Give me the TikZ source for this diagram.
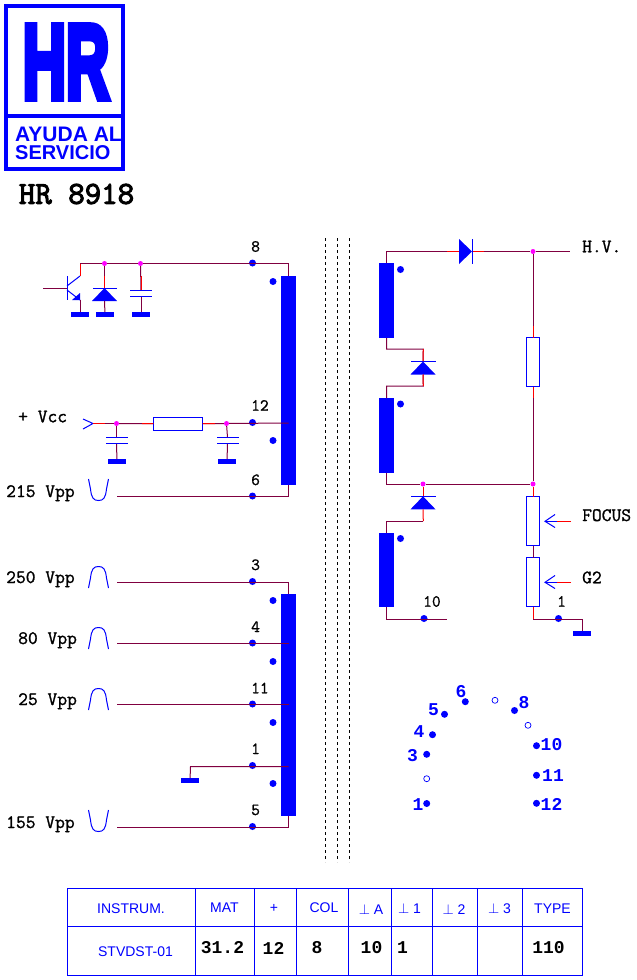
\documentclass[tikz,border=0pt]{standalone}
\usepackage{fontspec}
\setmainfont{Liberation Sans}
\newfontfamily\monofont{Liberation Mono}
\newfontfamily\logofont[FakeBold=7]{Liberation Sans Bold}
\newfontfamily\slabfont[FakeBold=1.2]{Latin Modern Mono}
\newfontfamily\titlefont[FakeBold=3]{Latin Modern Mono}
\usetikzlibrary{shapes.geometric,calc}
\definecolor{wirecol}{RGB}{128,0,64}
\definecolor{jointcol}{RGB}{255,0,255}
\newcommand{\pulse}[2]{\draw[wave,shift={#1},yscale=#2] (0,0) -- (2,-10) .. controls (3,-19) and (5,-21.5) .. (10,-21.5) .. controls (15,-21.5) and (17,-19) .. (18,-10) -- (20,0);}
\tikzset{
    wire/.style={
        draw=wirecol,
        line width=1pt,
    },
    stub/.style={
        draw=red,
        line width=1pt,
    },
    part/.style={
        draw=blue,
        line width=1pt,
    },
    wave/.style={
        draw=blue,
        line width=1pt,
    },
    coil/.style={
        rectangle,
        fill=blue,
        inner sep=0pt,
        outer sep=0pt,
        minimum width=15pt,
    },
    gnd/.style={
        rectangle,
        fill=blue,
        inner sep=0pt,
        outer sep=0pt,
        minimum width=18pt,
        minimum height=5pt,
    },
    plate/.style={
        rectangle,
        fill=blue,
        inner sep=0pt,
        outer sep=0pt,
        minimum width=22pt,
        minimum height=1pt,
    },
    res/.style={
        rectangle,
        draw=blue,
        fill=white,
        line width=1pt,
        inner sep=0pt,
        outer sep=0pt,
        minimum width=13pt,
        minimum height=49pt,
    },
    diode/.style={
        isosceles triangle,
        isosceles triangle stretches,
        fill=blue,
        inner sep=0pt,
        outer sep=0pt,
        minimum width=25pt,
        minimum height=13pt,
    },
    pin/.style={
        circle,
        fill=blue,
        inner sep=0pt,
        minimum size=7pt,
    },
    hole/.style={
        circle,
        draw=blue,
        fill=white,
        line width=0.7pt,
        inner sep=0pt,
        minimum size=6pt,
    },
    joint/.style={
        circle,
        fill=jointcol,
        inner sep=0pt,
        minimum size=5pt,
    },
    sep/.style={
        draw=black,
        line width=1pt,
        dash pattern=on 3pt off 3pt,
    },
    tab/.style={
        draw=blue,
        line width=1pt,
    },
    lab/.style={
        inner sep=0pt,
        anchor=base west,
        text=black,
        font=\slabfont\fontsize{17}{17}\selectfont,
    },
    volt/.style={
        lab,
        font=\slabfont\fontsize{19}{19}\selectfont,
    },
    num/.style={
        inner sep=0pt,
        text=blue,
        font=\monofont\bfseries\fontsize{18}{18}\selectfont,
    },
    head/.style={
        inner sep=0pt,
        text=blue,
        font=\fontsize{14}{14}\selectfont,
    },
    val/.style={
        inner sep=0pt,
        text=black,
        font=\monofont\bfseries\fontsize{18}{18}\selectfont,
    },
}
\begin{document}
\begin{tikzpicture}[x=1pt,y=-1pt]
    \useasboundingbox (0,0) rectangle (637,980);
    % logo
    \draw[blue,line width=4pt] (6,6) rectangle (123,169);
    \draw[blue,line width=4pt] (6,116) -- (123,116);
    \node[inner sep=0pt,text=blue,xscale=1.0,yscale=1.75,font=\logofont\fontsize{60}{60}\selectfont] (Logo) at (66,62) {HR};
    \node[inner sep=0pt,anchor=west,align=left,text=blue,font=\bfseries\fontsize{21}{18}\selectfont] (Ayuda) at (15,143.5) {AYUDA AL\\{\fontsize{20}{18}\selectfont SERVICIO}};
    \node[inner sep=0pt,font=\titlefont\fontsize{32}{32}\selectfont] (Title) at (76.5,194) {HR 8918};
    % separators of the core
    \coordinate (S1a) at (325,238);
    \coordinate (S1b) at (325,862);
    \coordinate (S2a) at (337,238);
    \coordinate (S2b) at (337,862);
    \coordinate (S3a) at (349,238);
    \coordinate (S3b) at (349,862);
    \draw[sep] (S1a) -- (S1b);
    \draw[sep] (S2a) -- (S2b);
    \draw[sep] (S3a) -- (S3b);
    % primary, upper winding
    \node[coil,minimum height=209pt] (W1) at (288.5,380.5) {};
    \node[coil,minimum height=222pt] (W2) at (288.5,705) {};
    \coordinate (W1a) at (288.5,263.5);
    \coordinate (W1b) at (288.5,423);
    \coordinate (W1c) at (288.5,496);
    \node[pin] (P8) at (252.5,263) {};
    \node[pin] (P12) at (252.5,422.5) {};
    \node[pin] (P6) at (252.5,496) {};
    \node[pin] (D8) at (273,281.5) {};
    \node[pin] (D12) at (273,440.5) {};
    \node[lab] (L8) at (251,251.7) {8};
    \node[lab] (L12) at (251,410.7) {12};
    \node[lab] (L6) at (251,485) {6};
    \node[joint] (J1) at (104.5,263.5) {};
    \node[joint] (J2) at (140.5,263.5) {};
    % transistor
    \coordinate (Tc) at (80,263.5);
    \coordinate (Tk) at (80,276);
    \coordinate (Tb) at (43,288);
    \coordinate (Tm) at (67,288);
    \coordinate (Te) at (80,300);
    \node[gnd] (G1) at (80,314.5) {};
    \draw[wire] (Tb) -- (Tm);
    \draw[part] (67,276) -- (67,300);
    \draw[part] (67,286) -- (Tk);
    \draw[part] (67,290) -- (Te);
    \fill[blue] (72,300) -- (80,293) -- (80,300) -- cycle;
    \draw[wire] (Te) -- (G1);
    \draw[wire] (Tc) -- (J1);
    \draw[wire] (J1) -- (J2);
    \draw[wire] (J2) -- (W1a) -- (W1.north);
    \draw[stub] (Tc) -- (Tk);
    % damper diode and capacitor
    \node[diode,shape border rotate=90,anchor=apex] (D1) at (104.5,288) {};
    \node[plate,minimum width=24pt] (D1k) at (104.5,288.5) {};
    \node[gnd] (G2) at (105,314.5) {};
    \draw[wire] (J1) -- (D1k);
    \draw[stub] (104.5,276) -- (D1k);
    \draw[wire] (D1.lower side) -- (G2);
    \node[plate] (C1a) at (141,290.5) {};
    \node[plate] (C1b) at (141,296.5) {};
    \node[gnd] (G3) at (141,314.5) {};
    \draw[wire] (J2) -- (C1a);
    \draw[stub] (141,276) -- (C1a);
    \draw[wire] (C1b) -- (G3);
    % supply
    \node[volt] (Vcc) at (18,422.3) {+ Vcc};
    \coordinate (In) at (93,423.5);
    \draw[part] (83,419) -- (In) -- (83,429);
    \node[res,minimum width=49.5pt,minimum height=13pt] (R1) at (178,423.7) {};
    \node[joint] (J3) at (116.5,423.5) {};
    \node[joint] (J4) at (226.5,423.5) {};
    \draw[wire] (In) -- (J3);
    \draw[wire] (J3) -- (R1.west);
    \draw[wire] (R1.east) -- (J4);
    \draw[wire] (J4) -- (W1b);
    \draw[stub] (In) -- (105,423.5);
    \draw[stub] (142,423.5) -- (R1.west);
    \draw[stub] (R1.east) -- (215,423.5);
    \node[plate] (C2a) at (116.5,437.5) {};
    \node[plate] (C2b) at (116.5,443.5) {};
    \node[gnd] (G4) at (117,461.5) {};
    \draw[wire] (J3) -- (C2a);
    \draw[wire] (C2b) -- (G4);
    \node[plate] (C3a) at (227.5,437.5) {};
    \node[plate] (C3b) at (227.5,443.5) {};
    \node[gnd] (G5) at (227,461.5) {};
    \draw[wire] (J4) -- (C3a);
    \draw[wire] (C3b) -- (G5);
    \node[volt] (V215) at (6,497) {215 Vpp};
    \pulse{(88.5,479)}{-1}
    \coordinate (N6) at (117,496);
    \draw[wire] (N6) -- (W1c) -- (W1.south);
    % primary, lower winding
    \coordinate (W2a) at (288.5,582);
    \coordinate (W2b) at (288.5,643.5);
    \coordinate (W2c) at (288.5,704.5);
    \coordinate (W2d) at (288.5,766.5);
    \coordinate (W2e) at (288.5,827);
    \node[pin] (P3) at (252.5,581.5) {};
    \node[pin] (P4) at (252.5,643) {};
    \node[pin] (P11) at (252.5,704) {};
    \node[pin] (P1) at (252.5,765.5) {};
    \node[pin] (P5) at (252.5,826.5) {};
    \node[pin] (D3) at (273,600.5) {};
    \node[pin] (D4) at (273,661.5) {};
    \node[pin] (D11) at (273,722.5) {};
    \node[pin] (D1p) at (273,783.5) {};
    \node[lab] (L3) at (251,570) {3};
    \node[lab] (L4) at (251,632) {4};
    \node[lab] (L11) at (251,693.3) {11};
    \node[lab] (L1) at (251,754) {1};
    \node[lab] (L5) at (251,815) {5};
    \node[volt] (V250) at (6,583) {250 Vpp};
    \node[volt] (V80) at (18,644) {80 Vpp};
    \node[volt] (V25) at (18,705) {25 Vpp};
    \node[volt] (V155) at (6,828) {155 Vpp};
    \pulse{(88.5,588)}{1}
    \pulse{(88.5,649)}{1}
    \pulse{(88.5,710)}{1}
    \pulse{(88.5,810)}{-1}
    \coordinate (N3) at (117,582);
    \coordinate (N4) at (117,643.5);
    \coordinate (N11) at (117,704.5);
    \coordinate (N1) at (190.5,766.5);
    \coordinate (N5) at (117,827);
    \node[gnd] (G6) at (190,780.5) {};
    \draw[wire] (N3) -- (W2a) -- (W2.north);
    \draw[wire] (N4) -- (W2b);
    \draw[wire] (N11) -- (W2c);
    \draw[wire] (G6) -- (N1) -- (W2d);
    \draw[wire] (N5) -- (W2e) -- (W2.south);
    % secondary windings
    \node[coil,minimum height=75pt] (H1) at (386.5,300.5) {};
    \node[coil,minimum height=75pt] (H2) at (386.5,435.5) {};
    \node[coil,minimum height=74pt] (H3) at (386.5,570) {};
    \node[pin] (D21) at (400.5,269.5) {};
    \node[pin] (D22) at (400.5,404) {};
    \node[pin] (D23) at (400.5,538.5) {};
    % output diode
    \node[diode,shape border rotate=0,anchor=lower side] (DH) at (459,251.5) {};
    \node[plate,minimum width=1pt,minimum height=25pt] (DHk) at (472.5,251.5) {};
    \coordinate (Hc) at (386.5,251.5);
    \coordinate (Hv) at (570,251.5);
    \node[joint] (J5) at (533,251.5) {};
    \draw[wire] (H1.north) -- (Hc) -- (DH.lower side);
    \draw[wire] (DHk) -- (J5);
    \draw[wire] (J5) -- (Hv);
    \draw[stub] (447,251.5) -- (DH.lower side);
    \draw[stub] (DHk) -- (484,251.5);
    \node[volt] (LHv) at (582,252.3) {H.V.};
    % diodes between windings
    \node[diode,anchor=apex,shape border rotate=90] (D2) at (423,361.5) {};
    \node[plate,minimum width=25pt] (D2k) at (423,361.5) {};
    \coordinate (A1) at (386.5,349);
    \coordinate (A2) at (423.3,349);
    \coordinate (A3) at (423.3,386);
    \coordinate (A4) at (386.5,386);
    \draw[wire] (H1.south) -- (A1) -- (A2) -- (D2k);
    \draw[wire] (D2.lower side) -- (A3) -- (A4) -- (H2.north);
    \draw[stub] (A2) -- (D2k);
    \draw[stub] (D2.lower side) -- (A3);
    \node[diode,anchor=apex,shape border rotate=90] (D3d) at (423,496.3) {};
    \node[plate,minimum width=25pt] (D3k) at (423,496.3) {};
    \coordinate (A5) at (386.5,484);
    \coordinate (A6) at (423.3,521);
    \coordinate (A7) at (386.5,521);
    \node[joint] (J6) at (423,484) {};
    \node[joint] (J7) at (533,484) {};
    \draw[wire] (H2.south) -- (A5) -- (J6);
    \draw[wire] (J6) -- (J7);
    \draw[wire] (A6) -- (A7) -- (H3.north);
    \draw[stub] (J6) -- (D3k);
    \draw[stub] (D3d.lower side) -- (A6);
    \coordinate (A8) at (386.5,619.3);
    \coordinate (A9) at (447,619.3);
    \node[pin] (P10) at (424,618.5) {};
    \node[lab] (L10) at (423,606.7) {10};
    \draw[wire] (H3.south) -- (A8) -- (A9);
    % bleeder chain
    \node[res] (R2) at (533,362) {};
    \node[res] (R3) at (533,521) {};
    \node[res] (R4) at (533,582) {};
    \draw[wire] (J5) -- (R2.north);
    \draw[wire] (R2.south) -- (J7);
    \draw[stub] (533,326) -- (R2.north);
    \draw[stub] (R2.south) -- (533,398);
    \draw[stub] (J7) -- (R3.north);
    \draw[wire] (R3.south) -- (R4.north);
    \coordinate (B1) at (533,619.3);
    \coordinate (B2) at (582,619.3);
    \node[gnd] (G7) at (582,633.5) {};
    \node[pin] (P1b) at (558.5,618.5) {};
    \node[lab] (L1b) at (557,606.7) {1};
    \draw[wire] (R4.south) -- (B1) -- (B2) -- (G7);
    \draw[stub] (R4.south) -- (B1);
    % taps
    \coordinate (F1) at (571,521.3);
    \coordinate (F2) at (557,521.3);
    \coordinate (F3) at (545,521.3);
    \draw[stub] (F1) -- (F2);
    \draw[part] (F2) -- (F3);
    \draw[part] (555,514.5) -- (F3) -- (555,527.5);
    \node[volt] (LF) at (582,521) {FOCUS};
    \coordinate (E1) at (571,582.3);
    \coordinate (E2) at (557,582.3);
    \coordinate (E3) at (545,582.3);
    \draw[stub] (E1) -- (E2);
    \draw[part] (E2) -- (E3);
    \draw[part] (555,575.5) -- (E3) -- (555,588.5);
    \node[volt] (LG) at (582,583.3) {G2};
    % socket
    \node[pin] (S6) at (465.3,701.7) {};
    \node[pin] (S5) at (444.5,714.3) {};
    \node[pin] (S4) at (432.5,734.7) {};
    \node[pin] (S3) at (426.7,754.3) {};
    \node[hole] (S2) at (426.7,778.7) {};
    \node[pin] (S1) at (426.7,803.5) {};
    \node[hole] (S7) at (495,700.3) {};
    \node[pin] (S8) at (514.5,710.5) {};
    \node[hole] (S9) at (528,725.3) {};
    \node[pin] (S10) at (536.5,745.7) {};
    \node[pin] (S11) at (536.5,775.3) {};
    \node[pin] (S12) at (536.5,803.3) {};
    \node[num] (N6s) at (461,692) {6};
    \node[num] (N5s) at (433.5,710) {5};
    \node[num] (N4s) at (419,732) {4};
    \node[num] (N3s) at (412.5,756) {3};
    \node[num] (N1s) at (418,805) {1};
    \node[num] (N8s) at (524,703) {8};
    \node[num] (N10s) at (551.5,745) {10};
    \node[num] (N11s) at (553,776) {11};
    \node[num] (N12s) at (551.5,804) {12};
    % table
    \draw[tab] (67.5,888.5) rectangle (582,975.5);
    \draw[tab] (67.5,926) -- (582,926);
    \draw[tab] (195,888.5) -- (195,975.5);
    \draw[tab] (254,888.5) -- (254,975.5);
    \draw[tab] (296,888.5) -- (296,975.5);
    \draw[tab] (348.5,888.5) -- (348.5,975.5);
    \draw[tab] (391,888.5) -- (391,975.5);
    \draw[tab] (432,888.5) -- (432,975.5);
    \draw[tab] (477,888.5) -- (477,975.5);
    \draw[tab] (522,888.5) -- (522,975.5);
    \node[head] (T1) at (131,909) {INSTRUM.};
    \node[head] (T2) at (224.5,908) {MAT};
    \node[head] (T3) at (274,908) {+};
    \node[head] (T4) at (324,908) {COL};
    \node[head] (T5) at (371,909) {$\perp$ A};
    \node[head] (T6) at (409.5,908) {$\perp$ 1};
    \node[head] (T7) at (454,909) {$\perp$ 2};
    \node[head] (T8) at (499.5,909) {$\perp$ 3};
    \node[head] (T9) at (552.5,909) {TYPE};
    \node[head] (T10) at (135.5,952) {STVDST-01};
    \node[val] (U1) at (222.5,948) {31.2};
    \node[val] (U2) at (273.5,948) {12};
    \node[val] (U3) at (317,948) {8};
    \node[val] (U4) at (371.5,948) {10};
    \node[val] (U5) at (402.5,948) {1};
    \node[val] (U6) at (548.5,948) {110};
\end{tikzpicture}
\end{document}
